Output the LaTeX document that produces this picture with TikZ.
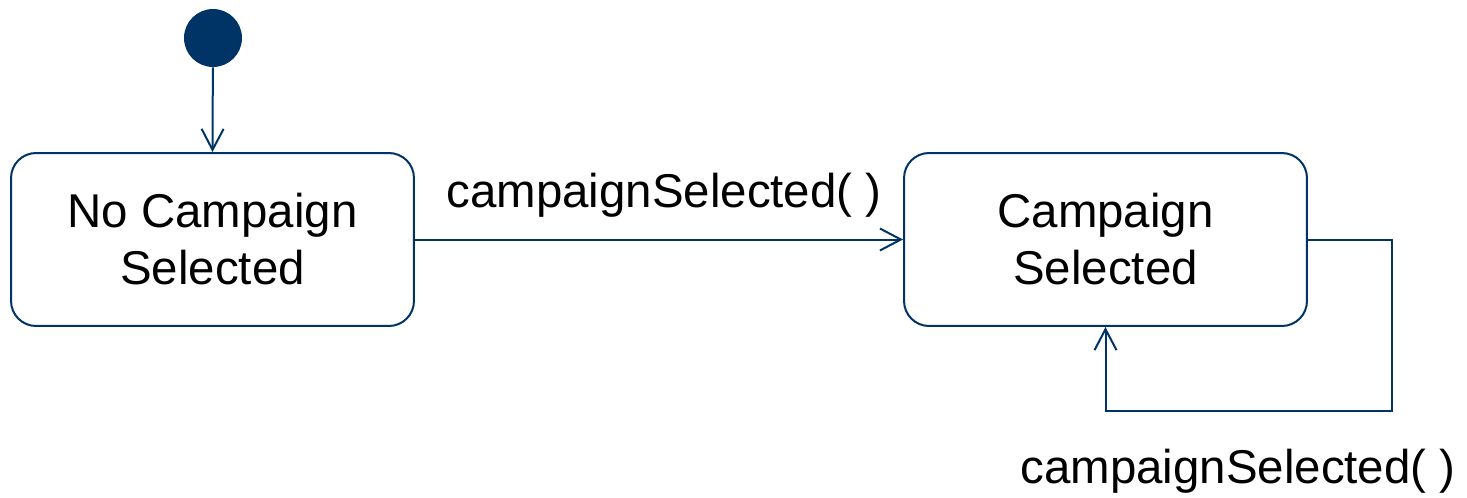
\documentclass[tikz,border=0pt]{standalone}
\usepackage{fontspec}
\setmainfont{Liberation Sans}
\usetikzlibrary{arrows.meta}
\definecolor{umlblue}{HTML}{003366}

\begin{document}
\begin{tikzpicture}[
		x=0.02cm, y=-0.02cm,
		state/.style={rectangle, draw=umlblue, line width=0.04cm, rounded corners=0.5cm,
			minimum width=8.06cm, minimum height=3.46cm, align=center,
			font=\fontsize{27}{32.4}\selectfont},
		start/.style={circle, fill=umlblue, minimum size=1.16cm, inner sep=0pt},
		arrow/.style={-{Straight Barb[length=0.42cm, width=0.44cm]}, draw=umlblue, line width=0.04cm},
		trans/.style={anchor=base, inner sep=0pt, font=\fontsize{27}{32.4}\selectfont}
	]
	\useasboundingbox (0,0) rectangle (1467,497);

	% Initial state
	\node[start] (init) at (213,38) {};

	% States
	\node[state] (ncs) at (212.5,239.5) {No Campaign\\Selected};
	\node[state] (cs) at (1105.5,239.5) {Campaign\\Selected};

	% Transitions
	\draw[arrow] (init) -- (ncs.north);
	\draw[arrow] (ncs.east) -- (cs.west);
	\node[trans] (t1) at (664,207) {campaignSelected( )};

	% Self transition
	\coordinate (loopc) at (1392,411);
	\draw[arrow] (cs.east) -| (loopc) -| (cs.south);
	\node[trans] (t2) at (1238,483) {campaignSelected( )};

\end{tikzpicture}
\end{document}
